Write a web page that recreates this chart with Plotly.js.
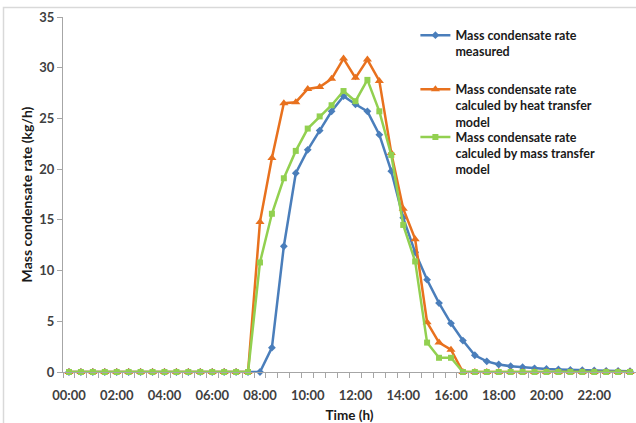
<!DOCTYPE html>
<html>
<head>
<meta charset="utf-8">
<script src="https://cdn.plot.ly/plotly-3.0.1.min.js"></script>
<style>
html,body{margin:0;padding:0;background:#fff;}
#chart{width:636px;height:423px;}
</style>
</head>
<body>
<div id="chart"></div>
<script>
// Half-hourly time stamps 00:00 ... 23:30
const times = ["00:00","00:30","01:00","01:30","02:00","02:30","03:00","03:30","04:00","04:30","05:00","05:30",
"06:00","06:30","07:00","07:30","08:00","08:30","09:00","09:30","10:00","10:30","11:00","11:30",
"12:00","12:30","13:00","13:30","14:00","14:30","15:00","15:30","16:00","16:30","17:00","17:30",
"18:00","18:30","19:00","19:30","20:00","20:30","21:00","21:30","22:00","22:30","23:00","23:30"];

const measured = [0,0,0,0,0,0,0,0,0,0,0,0,0,0,0,0,
0,2.4,12.4,19.6,21.9,23.8,25.7,27.2,26.4,25.7,23.4,19.8,15.2,11.8,9.1,6.8,
4.8,3.1,1.65,1.05,0.74,0.57,0.47,0.36,0.3,0.25,0.2,0.18,0.15,0.12,0.1,0.08];

const heatModel = [0,0,0,0,0,0,0,0,0,0,0,0,0,0,0,0,
14.8,21.1,26.5,26.6,27.9,28.1,28.9,30.9,29.0,30.8,28.7,21.6,16.1,13.1,4.9,2.9,
2.2,0,0,0,0,0,0,0,0,0,0,0,0,0,0,0];

const massModel = [0,0,0,0,0,0,0,0,0,0,0,0,0,0,0,0,
10.8,15.6,19.1,21.8,24.0,25.2,26.3,27.7,26.7,28.8,25.7,21.4,14.5,10.9,2.9,1.4,
1.4,0,0,0,0,0,0,0,0,0,0,0,0,0,0,0];

const seriesNames = [
  "Mass condensate rate<br>measured",
  "Mass condensate rate<br>calculed by heat transfer<br>model",
  "Mass condensate rate<br>calculed by mass transfer<br>model"
];

const xDates = times.map(t => "2000-01-01 " + t);
const font = "Lato, 'Liberation Sans', Arial, sans-serif";
const dark = "#404040";

function tr(y, name, color, symbol, size, legend){
  return {
    x: xDates, y: y, name: name, type: "scatter", mode: "lines+markers",
    line: {color: color, width: 2.5},
    marker: {color: color, symbol: symbol, size: size},
    cliponaxis: false, legend: legend
  };
}

const data = [
  tr(measured, seriesNames[0], "#4A7EBB", "diamond", 6, "legend"),
  tr(heatModel, seriesNames[1], "#E8711E", "triangle-up", 8, "legend2"),
  tr(massModel, seriesNames[2], "#92D050", "square", 6, "legend3")
];

const legendBase = {
  xanchor: "left", yanchor: "top", bgcolor: "rgba(0,0,0,0)",
  font: {family: font, size: 12.5, color: "#1a1a1a", weight: "bold"},
  itemwidth: 30, valign: "top", tracegroupgap: 0
};
const legX = 0.615;

const layout = {
  width: 636, height: 423,
  margin: {l: 63, r: 0, t: 17, b: 50.5},
  paper_bgcolor: "#fff", plot_bgcolor: "#fff",
  font: {family: font, size: 13, color: dark},
  showlegend: true,
  legend: Object.assign({}, legendBase, {x: legX, y: 0.99}),
  legend2: Object.assign({}, legendBase, {x: legX, y: 0.838}),
  legend3: Object.assign({}, legendBase, {x: legX, y: 0.703}),
  xaxis: {
    type: "date",
    range: ["1999-12-31 23:45", "2000-01-01 23:45"],
    tick0: "2000-01-01 00:00", dtick: 7200000, tickformat: "%H:%M",
    ticks: "", showgrid: false, zeroline: false,
    showline: true, linecolor: "#a6a6a6", linewidth: 1,
    ticklabelstandoff: 11,
    tickfont: {family: font, size: 13, color: dark, weight: "bold"},
    minor: {tick0: "1999-12-31 23:45", dtick: 1800000, ticks: "outside", ticklen: 5, tickcolor: "#a6a6a6", showgrid: false},
    title: {text: "Time (h)", font: {family: font, size: 13.5, color: "#1a1a1a", weight: "bold"}, standoff: 9}
  },
  yaxis: {
    range: [0, 35], dtick: 5, tick0: 0,
    ticks: "outside", ticklen: 5, tickcolor: "#a6a6a6",
    showgrid: false, zeroline: false,
    showline: true, linecolor: "#a6a6a6", linewidth: 1,
    tickfont: {family: font, size: 13, color: dark, weight: "bold"},
    title: {text: "Mass condensate rate (kg/h)", font: {family: font, size: 14, color: "#1a1a1a", weight: "bold"}, standoff: 3}
  },
  shapes: [{
    type: "rect", xref: "paper", yref: "paper",
    x0: (3.5-63)/573, x1: 1.01, y0: -0.2, y1: (372.5-7.5)/355.5,
    line: {color: "#d9d9d9", width: 1.5}, fillcolor: "rgba(0,0,0,0)", layer: "below"
  }]
};

Plotly.newPlot("chart", data, layout, {displayModeBar: false, staticPlot: true});
</script>
</body>
</html>
